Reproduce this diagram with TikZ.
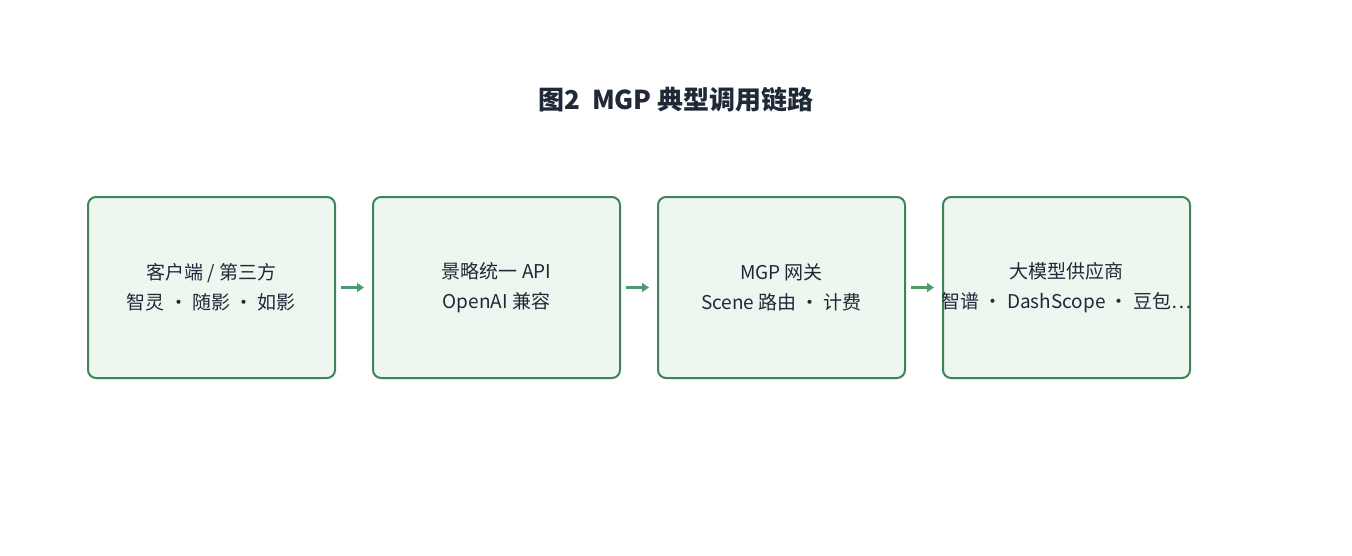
\documentclass[tikz,border=0pt]{standalone}
\usepackage{fontspec}
\setmainfont{Noto Sans CJK SC}
\usetikzlibrary{arrows.meta}
\definecolor{bd}{HTML}{3F8458}
\definecolor{bg}{HTML}{EEF6F0}
\definecolor{ar}{HTML}{4E9A6C}
\definecolor{tt}{HTML}{1F2937}
\begin{document}
\begin{tikzpicture}[x=1pt,y=-1pt,
  box/.style={draw=bd,fill=bg,line width=2pt,rounded corners=8pt,minimum width=247pt,minimum height=181pt,inner sep=0pt,anchor=north west},
  lbl/.style={align=center,font=\fontsize{19}{30}\selectfont,text=tt},
  arr/.style={draw=ar,line width=3pt,-{Triangle[length=7pt,width=9pt]}}]
\useasboundingbox (0,0) rectangle (1352,555);
\node[font=\fontsize{26}{30}\selectfont\bfseries,text=tt] (t) at (676,100) {图2\ \ MGP 典型调用链路};
\node[box] (b1) at (87,196) {};
\node[box] (b2) at (372,196) {};
\node[box] (b3) at (657,196) {};
\node[box] (b4) at (942,196) {};
\node[lbl] at (b1.center) {客户端 / 第三方\\智灵 · 随影 · 如影};
\node[lbl] at (b2.center) {景略统一 API\\OpenAI 兼容};
\node[lbl] at (b3.center) {MGP 网关\\Scene 路由 · 计费};
\node[lbl] at (b4.center) {大模型供应商\\智谱 · DashScope · 豆包…};
\draw[arr] ([xshift=5pt]b1.east) -- ([xshift=-8pt]b2.west);
\draw[arr] ([xshift=5pt]b2.east) -- ([xshift=-8pt]b3.west);
\draw[arr] ([xshift=5pt]b3.east) -- ([xshift=-8pt]b4.west);
\end{tikzpicture}
\end{document}
